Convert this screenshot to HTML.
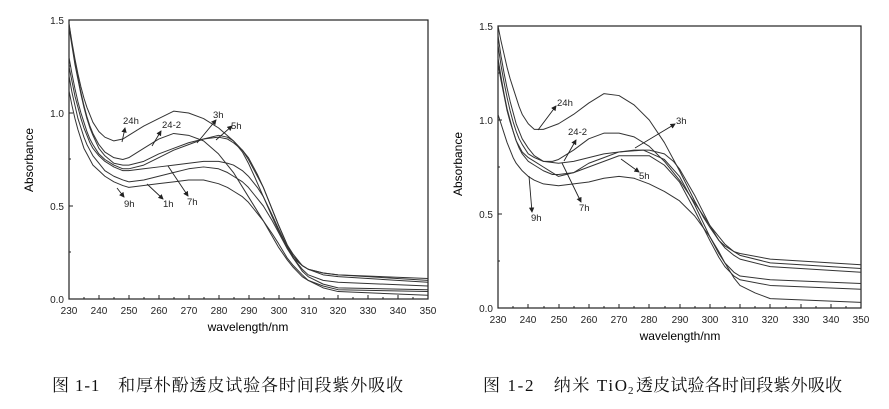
<!DOCTYPE html>
<html><head><meta charset="utf-8"><style>
html,body{margin:0;padding:0;background:#fff;}
svg{display:block;font-family:"Liberation Sans",Arial,sans-serif;}
.c{fill:none;stroke:#333;stroke-width:1;vector-effect:non-scaling-stroke;stroke-linejoin:round}
.t{font-size:10px;fill:#222}
.l{font-size:9.5px;fill:#222}
.a{stroke:#222;stroke-width:0.9;fill:none}
.cap{font-family:"Liberation Serif","Noto Serif CJK SC","Noto Sans CJK SC",serif;font-size:17px;fill:#111}
</style></head><body>
<svg width="889" height="409" viewBox="0 0 889 409" xmlns="http://www.w3.org/2000/svg">
<defs><marker id="ah" markerWidth="6" markerHeight="6" refX="5" refY="3" orient="auto"><path d="M0,0 L6,3 L0,6 z" fill="#222"/></marker></defs>

<!-- LEFT CHART -->
<rect x="69" y="20" width="359" height="279" fill="none" stroke="#222" stroke-width="1.2"/>
<g transform="translate(69,299) scale(2.99,-1.86)">
<polyline class="c" points="0,148 1,138 2,129 3,121 4,114 5,108 6,103 7,99 8,95 10,90 12,87 15,85 18,86 20,88 25,93 30,97 35,101 40,100 45,97 50,92 55,85 58,79 60,73 62,66 65,55 68,44 70,37 73,28 75,22 78,18 80,16 85,14 90,13 120,10"/>
<polyline class="c" points="0,148 1,137 2,127 3,119 4,111 5,104 6,98 7,93 8,89 10,83 12,79 15,76 18,75 20,76 25,81 30,86 35,89 40,88 45,85 50,78 55,68 60,55 65,42 70,28 73,21 75,17 78,12 80,10 85,7 90,5 120,4"/>
<polyline class="c" points="0,146 1,136 2,126 3,118 4,110 5,103 6,97 7,92 8,88 10,81 12,77 15,73 18,72 20,72 25,74 30,78 35,81 40,84 45,86 50,87 53,86 55,84 58,80 60,76 63,67 65,60 68,48 70,40 73,29 75,23 78,18 80,16 85,14 90,13 120,11"/>
<polyline class="c" points="0,130 1,121 2,113 3,106 4,100 5,95 6,90 7,86 8,83 10,78 12,75 15,72 18,70 20,70 25,72 30,76 35,80 40,83 45,86 50,88 53,87 55,85 58,80 60,75 63,66 65,60 68,48 70,40 73,29 75,24 78,18 80,16 85,13 90,12 120,9"/>
<polyline class="c" points="0,125 1,117 2,109 3,103 4,97 5,92 6,88 7,84 8,81 10,77 12,74 15,71 18,69 20,69 25,70 30,71 35,72 40,73 45,74 50,74 53,73 55,72 58,69 60,66 63,60 65,55 68,45 70,38 73,28 75,22 78,16 80,13 85,10 90,9 120,7"/>
<polyline class="c" points="0,120 1,111 2,104 3,97 4,92 5,87 6,83 7,80 8,77 10,73 12,69 15,66 18,64 20,63 25,64 30,66 35,68 40,70 45,71 50,70 53,68 55,66 58,63 60,60 63,54 65,50 68,42 70,36 73,27 75,22 78,15 80,12 85,8 90,6 120,5"/>
<polyline class="c" points="0,112 1,104 2,97 3,91 4,86 5,81 6,78 7,75 8,72 10,69 12,66 15,63 18,61 20,60 25,61 30,62 35,63 40,64 45,64 50,62 53,60 55,58 58,55 60,52 63,46 65,42 68,35 70,30 73,22 75,18 78,13 80,10 85,6 90,4 120,2"/>
</g>
<g stroke="#222" stroke-width="1">
<path d="M69,299v-4M84,299v-2M99,299v-4M114,299v-2M129,299v-4M144,299v-2M159,299v-4M174,299v-2M189,299v-4M204,299v-2M219,299v-4M234,299v-2M249,299v-4M264,299v-2M279,299v-4M294,299v-2M309,299v-4M324,299v-2M338,299v-4M353,299v-2M368,299v-4M383,299v-2M398,299v-4M413,299v-2M428,299v-4"/>
<path d="M69,299h4M69,252h2M69,206h4M69,159h2M69,113h4M69,66h2M69,20h4"/>
</g>
<g class="t" text-anchor="middle">
<text x="69" y="314">230</text><text x="99" y="314">240</text><text x="129" y="314">250</text><text x="159" y="314">260</text><text x="189" y="314">270</text><text x="219" y="314">280</text><text x="249" y="314">290</text><text x="279" y="314">300</text><text x="309" y="314">310</text><text x="338" y="314">320</text><text x="368" y="314">330</text><text x="398" y="314">340</text><text x="428" y="314">350</text>
</g>
<g class="t" text-anchor="end">
<text x="64" y="303">0.0</text><text x="64" y="210">0.5</text><text x="64" y="117">1.0</text><text x="64" y="24">1.5</text>
</g>
<text x="248" y="331" text-anchor="middle" style="font-size:12px">wavelength/nm</text>
<text transform="translate(33,160) rotate(-90)" text-anchor="middle" style="font-size:12px">Absorbance</text>
<g class="l"><text x="123" y="124">24h</text><text x="162" y="128">24-2</text><text x="213" y="118">3h</text><text x="231" y="129">5h</text><text x="124" y="207">9h</text><text x="163" y="207">1h</text><text x="187" y="205">7h</text></g>
<g class="a">
<line x1="122" y1="142" x2="125" y2="128" marker-end="url(#ah)"/>
<line x1="152" y1="146" x2="161" y2="131" marker-end="url(#ah)"/>
<line x1="197" y1="143" x2="216" y2="120" marker-end="url(#ah)"/>
<line x1="216" y1="140" x2="232" y2="126" marker-end="url(#ah)"/>
<line x1="117" y1="188" x2="124" y2="197" marker-end="url(#ah)"/>
<line x1="147" y1="184" x2="163" y2="199" marker-end="url(#ah)"/>
<line x1="168" y1="166" x2="188" y2="196" marker-end="url(#ah)"/>
</g>

<!-- RIGHT CHART -->
<rect x="498" y="26" width="363" height="282" fill="none" stroke="#222" stroke-width="1.2"/>
<g transform="translate(498,308) scale(3.025,-1.88)">
<polyline class="c" points="0,150 1,142 2,135 3,128 4,122 5,117 6,112 7,107 8,103 10,98 12,95 13,95 15,95 20,98 25,103 30,109 35,114 40,113 45,108 50,100 55,88 60,73 65,57 68,48 70,43 73,36 75,33 78,30 80,29 90,26 120,23"/>
<polyline class="c" points="0,145 1,134 2,125 3,117 4,110 5,104 6,98 7,94 8,90 10,85 12,81 15,78 18,78 20,79 25,84 30,90 35,93 40,93 45,91 50,86 55,78 60,68 65,56 70,44 73,38 75,34 78,30 80,28 90,24 120,21"/>
<polyline class="c" points="0,140 1,129 2,120 3,112 4,105 5,99 6,94 7,90 8,87 10,82 12,80 15,78 20,77 25,78 30,80 35,82 40,83 45,84 50,84 55,82 58,78 60,74 65,60 70,44 73,36 75,32 78,28 80,26 90,22 120,19"/>
<polyline class="c" points="0,133 1,123 2,114 3,106 4,100 5,94 6,89 7,85 8,82 10,78 12,76 15,73 18,71 20,71 25,72 30,77 35,80 40,83 48,84 55,79 60,70 65,55 70,38 73,29 75,24 78,19 80,17 90,15 120,13"/>
<polyline class="c" points="0,130 1,121 2,113 3,105 4,99 5,94 6,89 7,86 8,83 10,80 12,78 15,75 18,72 20,70 25,72 30,75 35,78 40,81 50,81 55,76 60,67 65,52 70,36 73,27 75,22 78,17 80,15 90,12 120,10"/>
<polyline class="c" points="0,103 2,93 3,88 4,84 5,80 6,77 7,75 8,73 10,70 12,68 15,66 20,65 25,66 30,67 35,69 40,70 45,69 50,66 55,62 60,57 65,49 70,38 73,30 75,24 78,16 80,12 85,8 90,5 120,3"/>
</g>
<g stroke="#222" stroke-width="1">
<path d="M498,308v-4M513,308v-2M528,308v-4M544,308v-2M559,308v-4M574,308v-2M589,308v-4M604,308v-2M619,308v-4M634,308v-2M649,308v-4M665,308v-2M680,308v-4M695,308v-2M710,308v-4M725,308v-2M740,308v-4M755,308v-2M770,308v-4M786,308v-2M801,308v-4M816,308v-2M831,308v-4M846,308v-2M861,308v-4"/>
<path d="M498,308h4M498,261h2M498,214h4M498,167h2M498,120h4M498,73h2M498,26h4"/>
</g>
<g class="t" text-anchor="middle">
<text x="498" y="323">230</text><text x="528" y="323">240</text><text x="559" y="323">250</text><text x="589" y="323">260</text><text x="619" y="323">270</text><text x="649" y="323">280</text><text x="680" y="323">290</text><text x="710" y="323">300</text><text x="740" y="323">310</text><text x="770" y="323">320</text><text x="801" y="323">330</text><text x="831" y="323">340</text><text x="861" y="323">350</text>
</g>
<g class="t" text-anchor="end">
<text x="493" y="312">0.0</text><text x="493" y="218">0.5</text><text x="493" y="124">1.0</text><text x="493" y="30">1.5</text>
</g>
<text x="680" y="340" text-anchor="middle" style="font-size:12px">wavelength/nm</text>
<text transform="translate(462,164) rotate(-90)" text-anchor="middle" style="font-size:12px">Absorbance</text>
<g class="l"><text x="557" y="106">24h</text><text x="568" y="135">24-2</text><text x="676" y="124">3h</text><text x="639" y="179">5h</text><text x="579" y="211">7h</text><text x="531" y="221">9h</text></g>
<g class="a">
<line x1="538" y1="130" x2="556" y2="106" marker-end="url(#ah)"/>
<line x1="564" y1="161" x2="576" y2="140" marker-end="url(#ah)"/>
<line x1="635" y1="148" x2="675" y2="124" marker-end="url(#ah)"/>
<line x1="621" y1="159" x2="639" y2="172" marker-end="url(#ah)"/>
<line x1="562" y1="163" x2="581" y2="202" marker-end="url(#ah)"/>
<line x1="529" y1="176" x2="532" y2="212" marker-end="url(#ah)"/>
</g>

<!-- captions -->
<text class="cap" x="52" y="391" textLength="351" lengthAdjust="spacing">图 1-1　和厚朴酚透皮试验各时间段紫外吸收</text>
<text class="cap" x="483" y="391" textLength="144" lengthAdjust="spacing">图 1-2　纳米 TiO</text>
<text class="cap" x="628" y="394" style="font-size:11px">2</text>
<text class="cap" x="636" y="391" textLength="206" lengthAdjust="spacing">透皮试验各时间段紫外吸收</text>
</svg>
</body></html>
